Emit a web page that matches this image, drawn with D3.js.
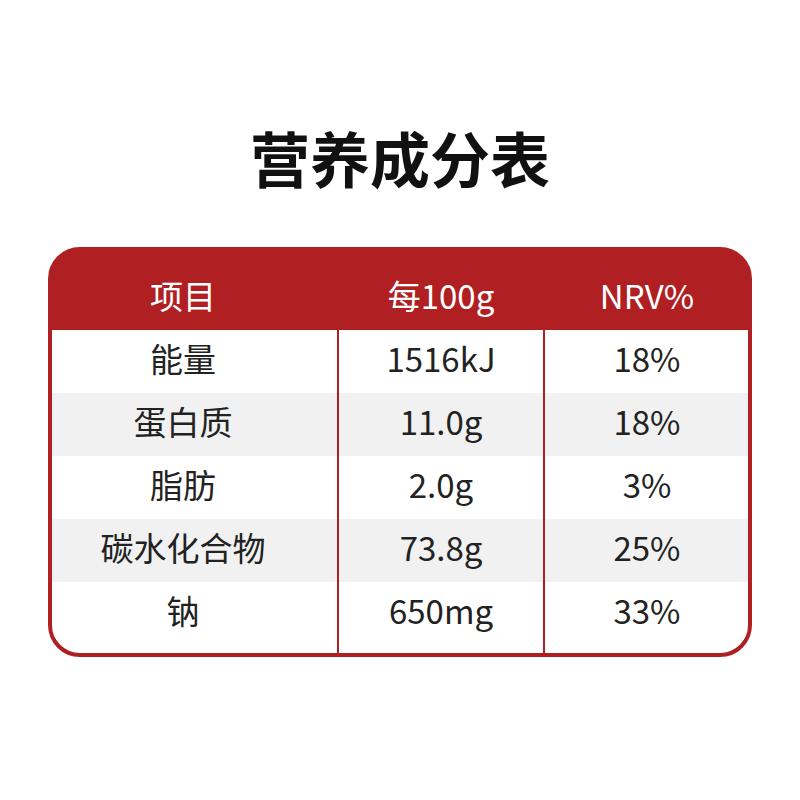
<!DOCTYPE html><html><head><meta charset="utf-8"><script src="https://cdn.jsdelivr.net/npm/d3@7"></script>
<style>body{margin:0;background:#fff}</style></head><body><svg id="c" width="800" height="800"></svg>
<script>
const title="营养成分表";
const headers=["项目","每100g","NRV%"];
const items=["能量","蛋白质","脂肪","碳水化合物","钠"];
const per100g=["1516kJ","11.0g","2.0g","73.8g","650mg"];
const nrv=["18%","18%","3%","25%","33%"];
const svg=d3.select("#c");
const red="#b01f22",font="'Noto Sans CJK SC','Noto Sans',sans-serif";
const L=50,R=750,T=249,B=655,H=81,RH=63;
const cols=d3.scaleOrdinal().domain([0,1,2]).range([183,441,647]);
const y=d3.scaleLinear().domain([0,1]).range([T+H,T+H+RH]);
svg.append("text").attr("x",400).attr("y",183).attr("text-anchor","middle").attr("font-family",font).attr("font-weight",700).attr("font-size",60).attr("fill","#111").text(title);
svg.append("defs").append("clipPath").attr("id","cl").append("rect").attr("x",L).attr("y",T).attr("width",R-L).attr("height",B-T).attr("rx",30);
const g=svg.append("g").attr("clip-path","url(#cl)");
g.append("rect").attr("x",L).attr("y",T).attr("width",R-L).attr("height",H).attr("fill",red);
g.selectAll(".row").data(items).join("rect").attr("x",L).attr("width",R-L).attr("y",(d,i)=>y(i)).attr("height",(d,i)=>i==items.length-1?B-y(i):RH).attr("fill",(d,i)=>i%2?"#f1f1f1":"#fff");
[338,544].forEach(x=>svg.append("line").attr("x1",x).attr("x2",x).attr("y1",T+H).attr("y2",B).attr("stroke",red).attr("stroke-width",2));
svg.append("rect").attr("x",L).attr("y",T).attr("width",R-L).attr("height",B-T).attr("rx",30).attr("fill","none").attr("stroke",red).attr("stroke-width",4);
svg.selectAll(".h").data(headers).join("text").attr("x",(d,i)=>cols(i)).attr("y",T+48+12).attr("text-anchor","middle").attr("font-family",font).attr("font-size",33).attr("fill","#fff").text(d=>d);
const cy=[360,423,486,548,610];
[items,per100g,nrv].forEach((arr,c)=>{
svg.selectAll(".c"+c).data(arr).join("text").attr("x",cols(c)).attr("y",(d,i)=>y(i)+30+12).attr("text-anchor","middle").attr("font-family",font).attr("font-size",33).attr("fill","#222").text(d=>d);});
</script></body></html>
